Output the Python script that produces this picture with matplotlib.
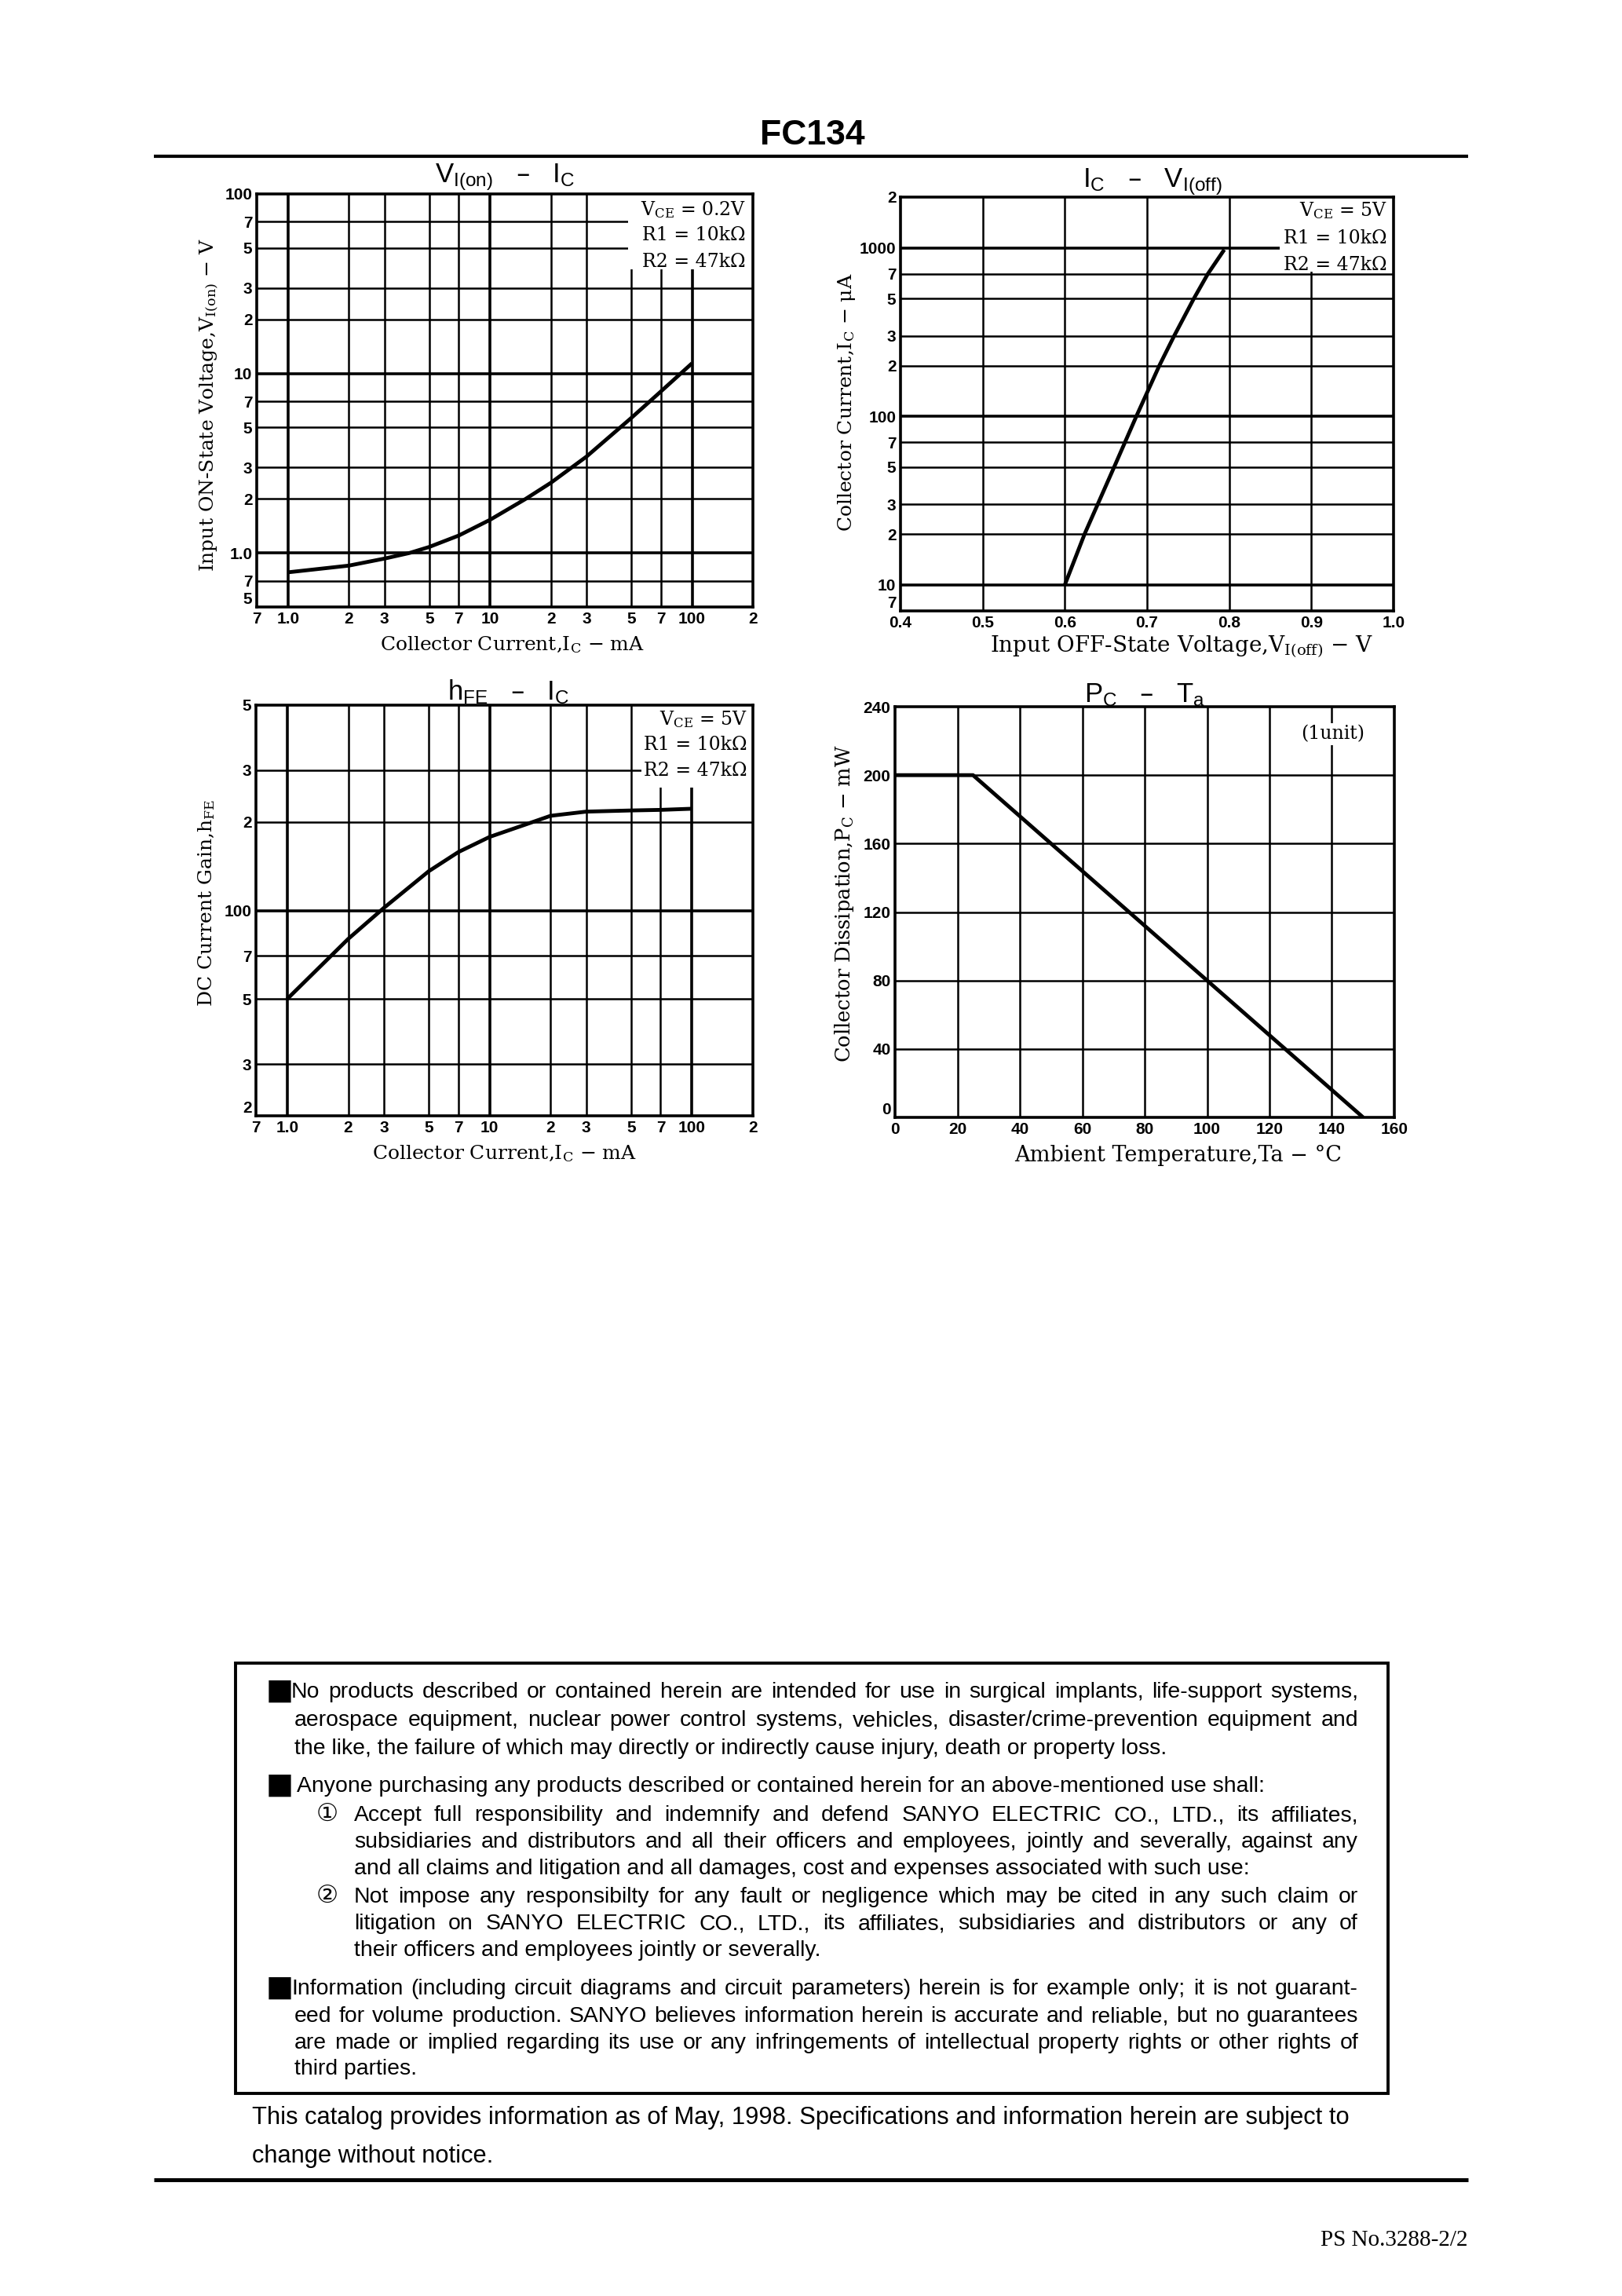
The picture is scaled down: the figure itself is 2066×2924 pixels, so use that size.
import matplotlib
matplotlib.use('Agg')
import matplotlib.pyplot as plt
from matplotlib.patches import Rectangle
from matplotlib.lines import Line2D
from matplotlib.ticker import NullLocator
from matplotlib.font_manager import FontProperties

# ---------------- data ----------------
vion_ic = [1, 2, 3, 4, 5, 7, 10, 15, 20, 30, 50, 70, 100]
vion_v = [0.78, 0.85, 0.93, 1.0, 1.08, 1.25, 1.53, 2.0, 2.46, 3.44, 5.65, 7.93, 11.4]

ic_voff_v = [0.600, 0.624, 0.660, 0.687, 0.715, 0.733, 0.757, 0.774, 0.794]
ic_voff_ua = [10, 20, 50, 100, 200, 300, 500, 700, 975]

hfe_ic = [1, 2, 3, 5, 7, 10, 15, 20, 30, 50, 70, 100]
hfe_val = [50, 80, 102, 136, 158, 178, 196, 210, 217, 219, 220, 222]

pc_ta = [0, 25, 150]
pc_mw = [200, 200, 0]

ic_ticks = [0.7, 1, 2, 3, 5, 7, 10, 20, 30, 50, 70, 100, 200]
ic_labels = ['7', '1.0', '2', '3', '5', '7', '10', '2', '3', '5', '7', '100', '2']
vion_ticks = [0.5, 0.7, 1, 2, 3, 5, 7, 10, 20, 30, 50, 70, 100]
vion_labels = ['5', '7', '1.0', '2', '3', '5', '7', '10', '2', '3', '5', '7', '100']
voff_ticks = [0.4, 0.5, 0.6, 0.7, 0.8, 0.9, 1.0]
voff_labels = ['0.4', '0.5', '0.6', '0.7', '0.8', '0.9', '1.0']
icua_ticks = [7, 10, 20, 30, 50, 70, 100, 200, 300, 500, 700, 1000, 2000]
icua_labels = ['7', '10', '2', '3', '5', '7', '100', '2', '3', '5', '7', '1000', '2']
hfe_ticks = [20, 30, 50, 70, 100, 200, 300, 500]
hfe_labels = ['2', '3', '5', '7', '100', '2', '3', '5']
ta_ticks = [0, 20, 40, 60, 80, 100, 120, 140, 160]
ta_labels = ['0', '20', '40', '60', '80', '100', '120', '140', '160']
pc_ticks = [0, 40, 80, 120, 160, 200, 240]
pc_labels = ['0', '40', '80', '120', '160', '200', '240']

disclaimer = [
    ('■', 'No products described or contained herein are intended for use in surgical implants, life-support systems,', True),
    ('', 'aerospace equipment, nuclear power control systems, vehicles, disaster/crime-prevention equipment and', True),
    ('', 'the like, the failure of which may directly or indirectly cause injury, death or property loss.', False),
    ('■', 'Anyone purchasing any products described or contained herein for an above-mentioned use shall:', False),
    ('①', 'Accept full responsibility and indemnify and defend SANYO ELECTRIC CO., LTD., its affiliates,', True),
    ('', 'subsidiaries and distributors and all their officers and employees, jointly and severally, against any', True),
    ('', 'and all claims and litigation and all damages, cost and expenses associated with such use:', False),
    ('②', 'Not impose any responsibilty for any fault or negligence which may be cited in any such claim or', True),
    ('', 'litigation on SANYO ELECTRIC CO., LTD., its affiliates, subsidiaries and distributors or any of', True),
    ('', 'their officers and employees jointly or severally.', False),
    ('■', 'Information (including circuit diagrams and circuit parameters) herein is for example only; it is not guarant-', True),
    ('', 'eed for volume production. SANYO believes information herein is accurate and reliable, but no guarantees', True),
    ('', 'are made or implied regarding its use or any infringements of intellectual property rights or other rights of', True),
    ('', 'third parties.', False),
]
catalog = ['This catalog provides information as of May, 1998. Specifications and information herein are subject to',
           'change without notice.']

# ---------------- figure ----------------
W, H = 2066, 2924
fig = plt.figure(figsize=(W / 100, H / 100), dpi=100)
fig.patch.set_facecolor('white')
renderer = fig.canvas.get_renderer()

SERIF = ['DejaVu Serif']
SANS = ['Liberation Sans', 'DejaVu Sans']
BODY = ['Liberation Sans', 'DejaVu Sans', 'Noto Sans CJK JP']


def ptext(x, y, s, **kw):
    return fig.text(x / W, 1 - y / H, s, **kw)


def hline(x0, x1, y, lw):
    fig.add_artist(Line2D([x0 / W, x1 / W], [1 - y / H, 1 - y / H], transform=fig.transFigure,
                          color='black', lw=lw, solid_capstyle='butt'))


def add_ax(l, t, r, b):
    return fig.add_axes([l / W, 1 - b / H, (r - l) / W, (b - t) / H])


def setup(ax, xlim, ylim, xt, xl, yt, yl, xlog, ylog, xmaj, ymaj):
    if xlog:
        ax.set_xscale('log')
    if ylog:
        ax.set_yscale('log')
    ax.set_xlim(*xlim)
    ax.set_ylim(*ylim)
    ax.set_xticks(xt, xl)
    ax.set_yticks(yt, yl)
    ax.xaxis.set_minor_locator(NullLocator())
    ax.yaxis.set_minor_locator(NullLocator())
    ax.tick_params(length=0, pad=4)
    for lab in ax.get_xticklabels() + ax.get_yticklabels():
        lab.set_fontfamily(SANS)
        lab.set_fontweight('bold')
        lab.set_fontsize(15)
    # lowest y label sits just above the corner, as in the reference
    ax.get_yticklabels()[0].set_va('bottom')
    for v in xt[1:-1]:
        ax.axvline(v, color='black', lw=2.6 if v in xmaj else 1.8, zorder=1)
    for v in yt[1:-1]:
        ax.axhline(v, color='black', lw=2.6 if v in ymaj else 1.8, zorder=1)
    for s in ax.spines.values():
        s.set_linewidth(2.6)
        s.set_zorder(5)


def labels(title, tpos, xlabel, xpos, xsize, ylabel, ypos, ysize):
    ptext(tpos[0], tpos[1], title, ha='center', va='center', fontsize=25, family=SANS)
    ptext(xpos[0], xpos[1], xlabel, ha='center', va='center', fontsize=xsize, family=SERIF)
    ptext(ypos[0], ypos[1], ylabel, ha='center', va='center', fontsize=ysize, family=SERIF, rotation=90)


def note(lines, xr, ys, size=17):
    for s, y in zip(lines, ys):
        ptext(xr, y, s, ha='right', va='center', fontsize=size, family=SERIF, zorder=6)


# header
ptext(1035, 172, 'FC134', ha='center', va='center', fontsize=32, fontweight='bold', family=SANS)
hline(196, 1870, 199, 3.0)

# ---- chart 1 ----
ax1 = add_ax(327, 247, 959, 773)
setup(ax1, (0.7, 200), (0.5, 100), ic_ticks, ic_labels, vion_ticks, vion_labels, True, True,
      [1, 10, 100], [1, 10])
ax1.add_patch(Rectangle((48, 38), 200 - 48, 100 - 38, facecolor='white', edgecolor='none', zorder=1.5))
ax1.plot(vion_ic, vion_v, color='black', lw=3.5, zorder=3, solid_capstyle='butt')
labels(r'$\mathregular{V_{I(on)}}$   –   $\mathregular{I_C}$', (643, 226),
       r'Collector Current,$\mathregular{I_C}$ − mA', (653, 821), 18,
       r'Input ON-State Voltage,$\mathregular{V_{I(on)}}$ − V', (267, 515), 18)
note([r'$\mathregular{V_{CE}}$ = 0.2V', 'R1 = 10kΩ', 'R2 = 47kΩ'], 950, [267, 300, 334])

# ---- chart 2 ----
ax2 = add_ax(1147, 251, 1775, 778)
setup(ax2, (0.4, 1.0), (7, 2000), voff_ticks, voff_labels, icua_ticks, icua_labels, False, True,
      [], [10, 100, 1000])
ax2.add_patch(Rectangle((0.861, 720), 1.0 - 0.861, 2000 - 720, facecolor='white', edgecolor='none', zorder=1.5))
ax2.plot(ic_voff_v, ic_voff_ua, color='black', lw=3.5, zorder=3, solid_capstyle='butt')
labels(r'$\mathregular{I_C}$   –   $\mathregular{V_{I(off)}}$', (1468, 232),
       r'Input OFF-State Voltage,$\mathregular{V_{I(off)}}$ − V', (1505, 823), 20,
       r'Collector Current,$\mathregular{I_C}$ − μA', (1078, 512), 18)
note([r'$\mathregular{V_{CE}}$ = 5V', 'R1 = 10kΩ', 'R2 = 47kΩ'], 1767, [268, 303, 337])

# ---- chart 3 ----
ax3 = add_ax(326, 898, 959, 1421)
setup(ax3, (0.7, 200), (20, 500), ic_ticks, ic_labels, hfe_ticks, hfe_labels, True, True,
      [1, 10, 100], [100])
ax3.add_patch(Rectangle((56, 262), 200 - 56, 500 - 262, facecolor='white', edgecolor='none', zorder=1.5))
ax3.plot(hfe_ic, hfe_val, color='black', lw=3.5, zorder=3, solid_capstyle='butt')
labels(r'$\mathregular{h_{FE}}$   –   $\mathregular{I_C}$', (648, 881),
       r'Collector Current,$\mathregular{I_C}$ − mA', (643, 1469), 18,
       r'DC Current Gain,$\mathregular{h_{FE}}$', (263, 1150), 18)
note([r'$\mathregular{V_{CE}}$ = 5V', 'R1 = 10kΩ', 'R2 = 47kΩ'], 952, [916, 949, 982])

# ---- chart 4 ----
ax4 = add_ax(1140, 900, 1776, 1423)
setup(ax4, (0, 160), (0, 240), ta_ticks, ta_labels, pc_ticks, pc_labels, False, False, [], [])
ax4.plot(pc_ta, pc_mw, color='black', lw=3.5, zorder=3, solid_capstyle='butt')
labels(r'$\mathregular{P_C}$   –   $\mathregular{T_a}$', (1458, 885),
       'Ambient Temperature,Ta − °C', (1501, 1471), 19.5,
       r'Collector Dissipation,$\mathregular{P_C}$ − mW', (1076, 1151), 18.5)
ptext(1698, 935, '(1unit)', ha='center', va='center', fontsize=17, family=SERIF, zorder=6,
      bbox=dict(facecolor='white', edgecolor='none', pad=2))

# ---- disclaimer box ----
fig.add_artist(Rectangle((300 / W, 1 - 2666 / H), (1768 - 300) / W, (2666 - 2118) / H,
                         transform=fig.transFigure, fill=False, lw=2.8, edgecolor='black'))

base = FontProperties(family=BODY, size=20)
wref = renderer.get_text_width_height_descent(disclaimer[3][1], base, ismath=False)[0]
fs = 20 * 1230 / wref
fp = FontProperties(family=BODY, size=fs)
fp_box = FontProperties(family=['DejaVu Sans'], size=fs * 1.3)
fp_num = FontProperties(family=BODY, size=fs * 1.1)
em = fs * 100 / 72
line_y = [2152, 2188, 2224, 2272, 2309, 2343, 2377, 2413, 2447, 2481, 2530, 2565, 2599, 2632]
indent_rows = {5, 6, 8, 9}
RIGHT = 1730

for i, ((bullet, txt, just), yc) in enumerate(zip(disclaimer, line_y)):
    yb = yc + 0.36 * em
    if bullet == '■':
        ptext(339, yb + 0.04 * em, bullet, ha='left', va='baseline', fontproperties=fp_box)
        x0 = 378 if not just else 371
    elif bullet:
        ptext(403, yb, bullet, ha='left', va='baseline', fontproperties=fp_num)
        x0 = 451
    else:
        x0 = 451 if i in indent_rows else 375
    if just:
        words = txt.split(' ')
        ws = [renderer.get_text_width_height_descent(w_, fp, ismath=False)[0] for w_ in words]
        gap = (RIGHT - x0 - sum(ws)) / (len(words) - 1)
        x = x0
        for w_, wd in zip(words, ws):
            ptext(x, yb, w_, ha='left', va='baseline', fontproperties=fp)
            x += wd + gap
    else:
        ptext(x0, yb, txt, ha='left', va='baseline', fontproperties=fp)

fp_cat = FontProperties(family=BODY, size=fs * 1.085)
em_c = fs * 1.085 * 100 / 72
for txt, yc in zip(catalog, [2694, 2743]):
    ptext(321, yc + 0.36 * em_c, txt, ha='left', va='baseline', fontproperties=fp_cat)

hline(196, 1870, 2776, 3.6)
ptext(1870, 2853, 'PS No.3288-2/2', ha='right', va='center', fontsize=21, family=['Liberation Serif'])

fig.savefig('out.png', dpi=100, facecolor='white')
